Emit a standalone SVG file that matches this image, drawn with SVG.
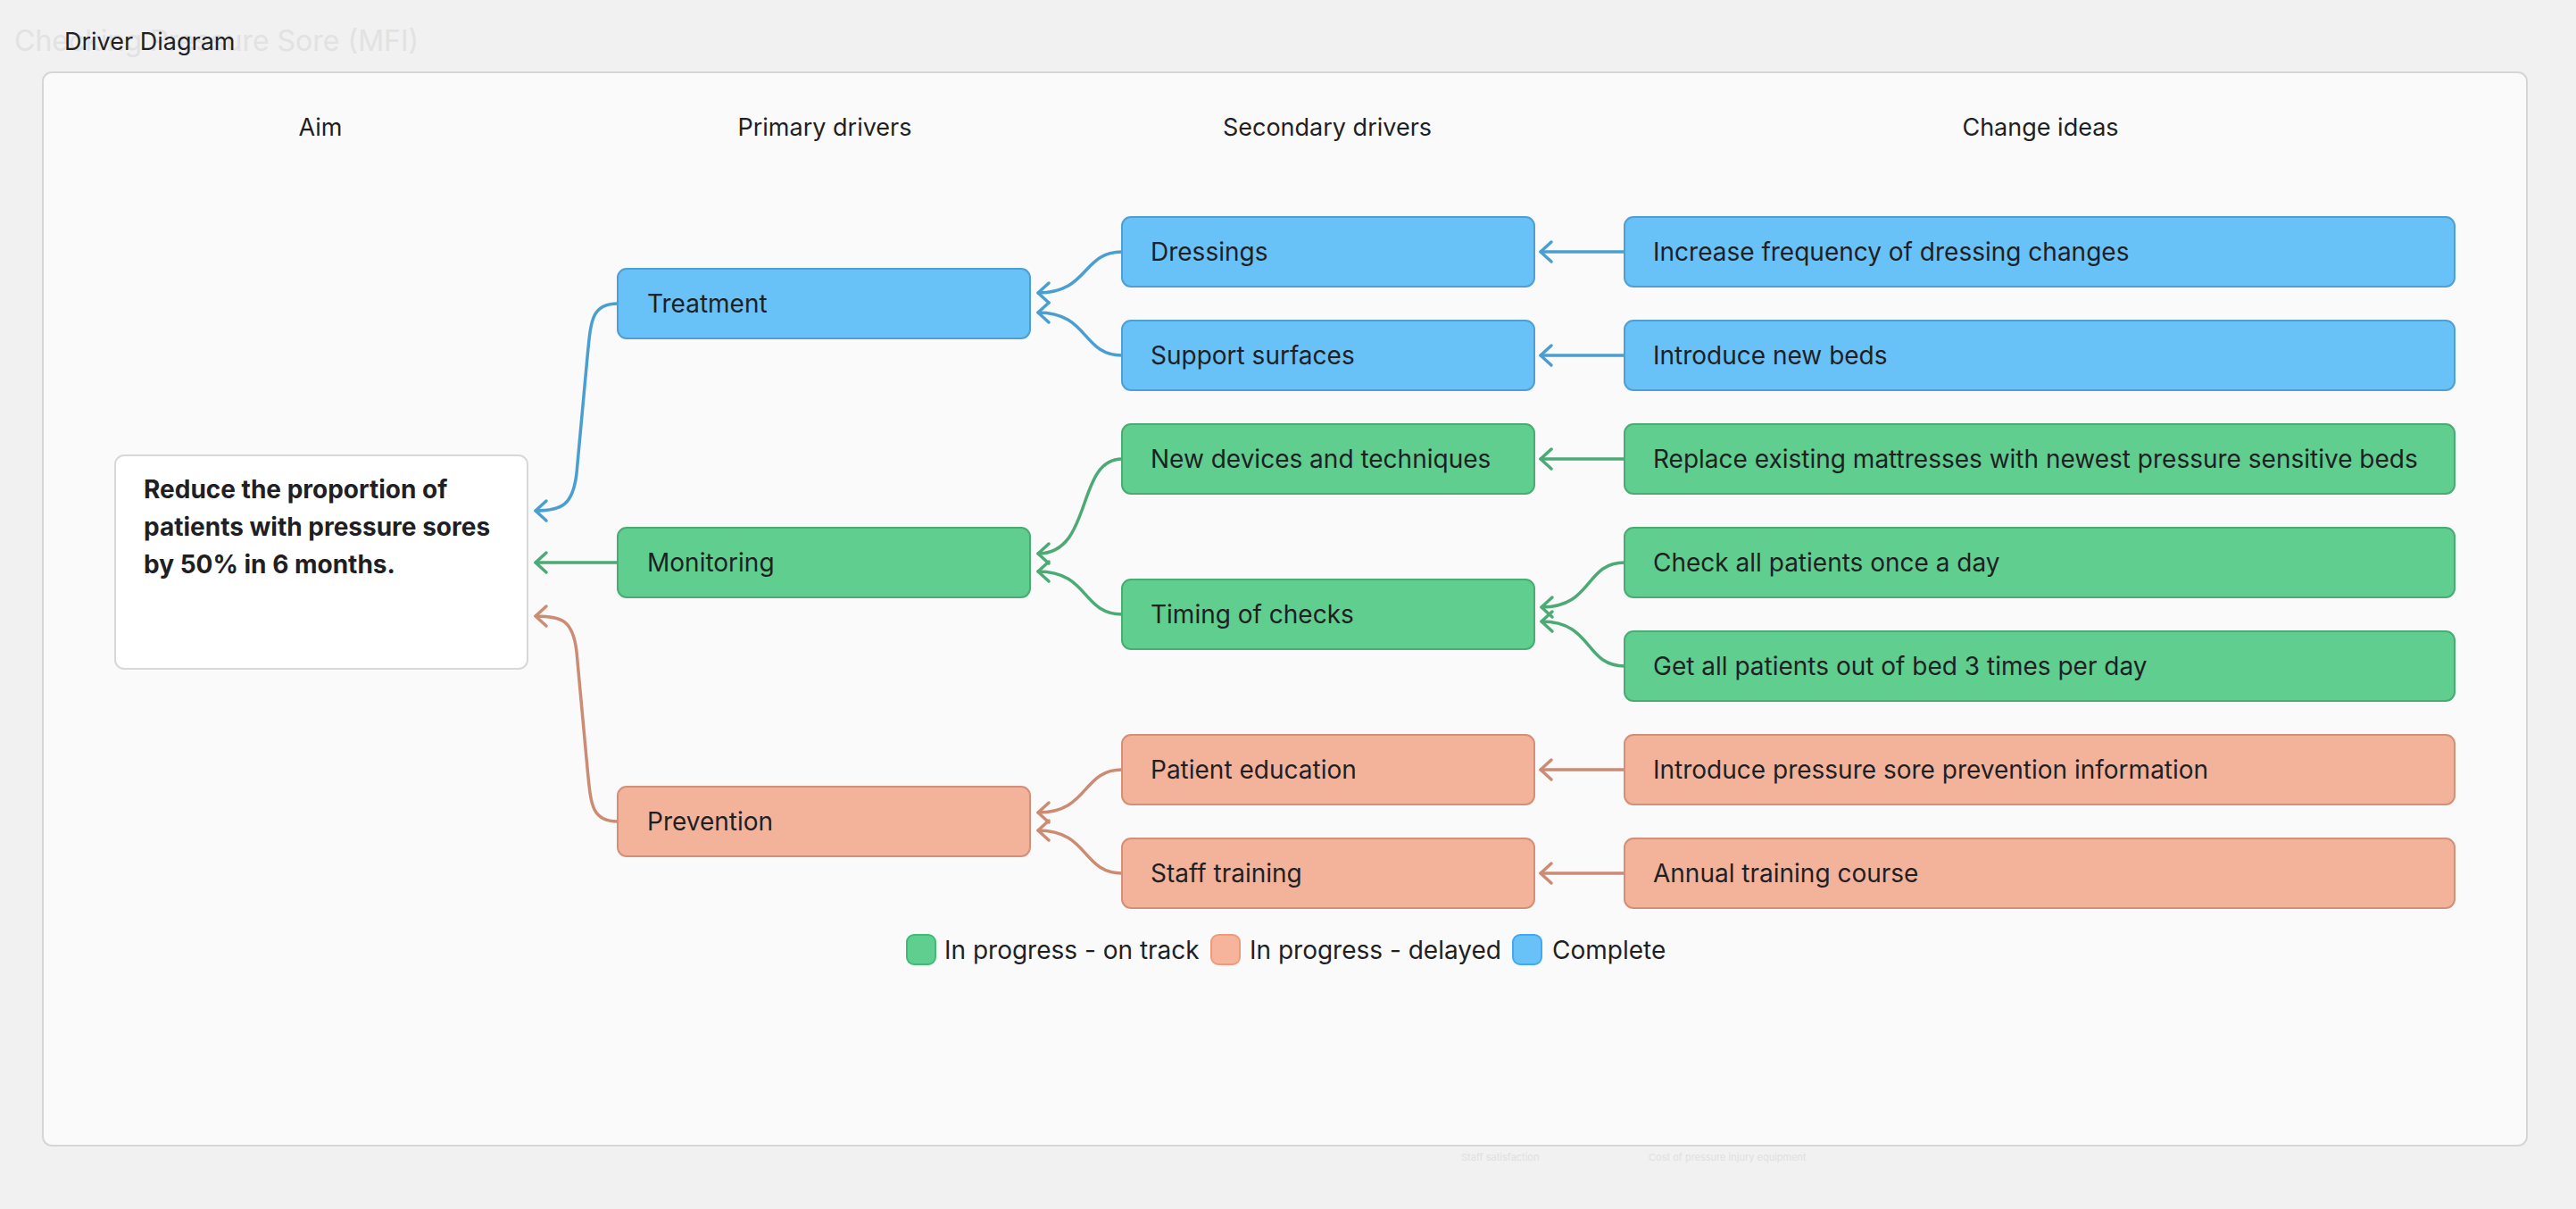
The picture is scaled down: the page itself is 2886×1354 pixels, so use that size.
<svg xmlns="http://www.w3.org/2000/svg" width="2886" height="1354" viewBox="0 0 2886 1354">
<style>
text{font-family:Inter,"Noto Sans","Liberation Sans",sans-serif;fill:#1f1f24}
.h{font-size:27px;text-anchor:middle}
.t{font-size:28px;dominant-baseline:central}
.b{fill:#68c1f7;stroke:#4f9fd3;stroke-width:2}
.g{fill:#5fce8f;stroke:#4aab73;stroke-width:2}
.s{fill:#f3b39b;stroke:#d48f78;stroke-width:2}
.cb{fill:none;stroke:#4a9fd0;stroke-width:3.5;stroke-linecap:round;stroke-linejoin:round}
.cg{fill:none;stroke:#4caa75;stroke-width:3.5;stroke-linecap:round;stroke-linejoin:round}
.cs{fill:none;stroke:#cc8b73;stroke-width:3.5;stroke-linecap:round;stroke-linejoin:round}
</style>
<defs>
<path id="ah" d="M12,-11 L0,0 L12,11"/>
</defs>
<rect width="2886" height="1354" fill="#f1f1f1"/>
<text x="16" y="57" font-size="32" style="fill:#e2e2e2">Checking Pressure Sore (MFI)</text>
<text x="1637" y="1300" font-size="11" style="fill:#e0e0e0">Staff satisfaction</text>
<text x="1847" y="1300" font-size="11" style="fill:#e0e0e0">Cost of pressure injury equipment</text>
<text x="72" y="56" font-size="27">Driver Diagram</text>
<rect x="48" y="81" width="2783" height="1202" rx="10" fill="#fafafa" stroke="#d6d6d6" stroke-width="2"/>
<g id="headers">
<text class="h" x="359" y="152">Aim</text>
<text class="h" x="924" y="152">Primary drivers</text>
<text class="h" x="1487" y="152">Secondary drivers</text>
<text class="h" x="2286" y="152">Change ideas</text>
</g>
<g id="connectors">
<path class="cb" d="M1820,282 L1726,282"/><use href="#ah" class="cb" x="1726" y="282"/>
<path class="cb" d="M1820,398 L1726,398"/><use href="#ah" class="cb" x="1726" y="398"/>
<path class="cg" d="M1820,514 L1726,514"/><use href="#ah" class="cg" x="1726" y="514"/>
<path class="cg" d="M1820,630 C1775,630 1785,680 1727,680"/><use href="#ah" class="cg" x="1727" y="680"/>
<path class="cg" d="M1820,746 C1775,746 1785,696 1727,696"/><use href="#ah" class="cg" x="1727" y="696"/>
<path class="cs" d="M1820,862 L1726,862"/><use href="#ah" class="cs" x="1726" y="862"/>
<path class="cs" d="M1820,978 L1726,978"/><use href="#ah" class="cs" x="1726" y="978"/>
<path class="cb" d="M1257,282 C1212,282 1220,328 1163,328"/><use href="#ah" class="cb" x="1163" y="328"/>
<path class="cb" d="M1257,398 C1212,398 1220,350 1163,350"/><use href="#ah" class="cb" x="1163" y="350"/>
<path class="cg" d="M1257,514 C1205,514 1225,620 1163,620"/><use href="#ah" class="cg" x="1163" y="620"/>
<path class="cg" d="M1257,688 C1212,688 1220,640 1163,640"/><use href="#ah" class="cg" x="1163" y="640"/>
<path class="cs" d="M1257,862 C1212,862 1220,910 1163,910"/><use href="#ah" class="cs" x="1163" y="910"/>
<path class="cs" d="M1257,978 C1212,978 1220,930 1163,930"/><use href="#ah" class="cs" x="1163" y="930"/>
<path class="cb" d="M692,340 C662,340 662,360 658,400 L646,530 C642,565 630,572 600,572"/><use href="#ah" class="cb" x="600" y="572"/>
<path class="cg" d="M692,630 L600,630"/><use href="#ah" class="cg" x="600" y="630"/>
<path class="cs" d="M692,920 C662,920 662,900 658,860 L646,730 C642,695 630,690 600,690"/><use href="#ah" class="cs" x="600" y="690"/>
</g>
<g id="aim"><rect x="129" y="510" width="462" height="239" rx="10" fill="#fff" stroke="#d8d8d8" stroke-width="2"/>
<text x="161" y="558" font-size="28" font-weight="bold">Reduce the proportion of</text>
<text x="161" y="600" font-size="28" font-weight="bold">patients with pressure sores</text>
<text x="161" y="642" font-size="28" font-weight="bold">by 50% in 6 months.</text></g>
<g id="treatment"><rect class="b" x="692" y="301" width="462" height="78" rx="10"/><text class="t" x="725" y="340">Treatment</text></g>
<g id="monitoring"><rect class="g" x="692" y="591" width="462" height="78" rx="10"/><text class="t" x="725" y="630">Monitoring</text></g>
<g id="prevention"><rect class="s" x="692" y="881" width="462" height="78" rx="10"/><text class="t" x="725" y="920">Prevention</text></g>
<g id="dressings"><rect class="b" x="1257" y="243" width="462" height="78" rx="10"/><text class="t" x="1289" y="282">Dressings</text></g>
<g id="support"><rect class="b" x="1257" y="359" width="462" height="78" rx="10"/><text class="t" x="1289" y="398">Support surfaces</text></g>
<g id="devices"><rect class="g" x="1257" y="475" width="462" height="78" rx="10"/><text class="t" x="1289" y="514">New devices and techniques</text></g>
<g id="timing"><rect class="g" x="1257" y="649" width="462" height="78" rx="10"/><text class="t" x="1289" y="688">Timing of checks</text></g>
<g id="education"><rect class="s" x="1257" y="823" width="462" height="78" rx="10"/><text class="t" x="1289" y="862">Patient education</text></g>
<g id="staff"><rect class="s" x="1257" y="939" width="462" height="78" rx="10"/><text class="t" x="1289" y="978">Staff training</text></g>
<g id="c1"><rect class="b" x="1820" y="243" width="930" height="78" rx="10"/><text class="t" x="1852" y="282">Increase frequency of dressing changes</text></g>
<g id="c2"><rect class="b" x="1820" y="359" width="930" height="78" rx="10"/><text class="t" x="1852" y="398">Introduce new beds</text></g>
<g id="c3"><rect class="g" x="1820" y="475" width="930" height="78" rx="10"/><text class="t" x="1852" y="514">Replace existing mattresses with newest pressure sensitive beds</text></g>
<g id="c4"><rect class="g" x="1820" y="591" width="930" height="78" rx="10"/><text class="t" x="1852" y="630">Check all patients once a day</text></g>
<g id="c5"><rect class="g" x="1820" y="707" width="930" height="78" rx="10"/><text class="t" x="1852" y="746">Get all patients out of bed 3 times per day</text></g>
<g id="c6"><rect class="s" x="1820" y="823" width="930" height="78" rx="10"/><text class="t" x="1852" y="862">Introduce pressure sore prevention information</text></g>
<g id="c7"><rect class="s" x="1820" y="939" width="930" height="78" rx="10"/><text class="t" x="1852" y="978">Annual training course</text></g>
<g id="legend">
<rect x="1016" y="1047" width="32" height="33" rx="8" fill="#5fce8f" stroke="#3dbd74" stroke-width="2"/>
<text class="t" x="1058" y="1064">In progress - on track</text>
<rect x="1357" y="1047" width="32" height="33" rx="8" fill="#f5b49b" stroke="#f09a7a" stroke-width="2"/>
<text class="t" x="1400" y="1064">In progress - delayed</text>
<rect x="1695" y="1047" width="32" height="33" rx="8" fill="#68c1f7" stroke="#3fa9f5" stroke-width="2"/>
<text class="t" x="1739" y="1064">Complete</text>
</g>
</svg>
